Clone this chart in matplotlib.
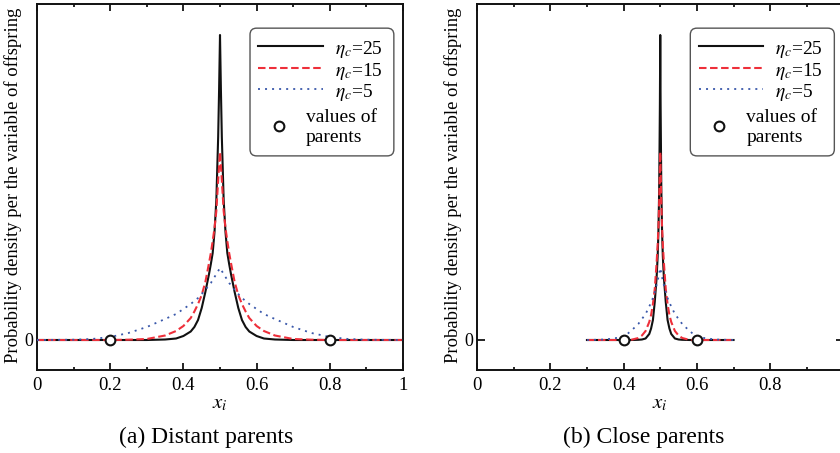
import matplotlib
matplotlib.use("Agg")
import matplotlib.pyplot as plt
from matplotlib.ticker import MultipleLocator, FixedLocator
from matplotlib.patches import FancyBboxPatch

plt.rcParams['font.family'] = ['Liberation Serif', 'DejaVu Serif']
plt.rcParams['mathtext.fontset'] = 'stix'

# ---------------- data ----------------
# (a) Distant parents
x_a = [0.00, 0.10, 0.15, 0.20, 0.25, 0.30, 0.35, 0.38, 0.40, 0.42, 0.43, 0.44, 0.45, 0.46, 0.47,
       0.475, 0.48, 0.485, 0.49, 0.495, 0.4975, 0.50, 0.5025, 0.505, 0.51, 0.515, 0.52, 0.525,
       0.53, 0.54, 0.55, 0.56, 0.57, 0.58, 0.60, 0.62, 0.65, 0.70, 0.75, 0.80, 0.85, 0.90, 1.00]
eta25_a = [0, 0, 0, 0, 0, 0, 0.05, 0.15, 0.4, 0.85, 1.3, 2.0, 3.2, 4.8, 6.6, 7.6, 8.7, 10.8, 14.0,
           20.3, 25.0, 30.5, 25.0, 20.3, 14.0, 10.8, 8.7, 7.6, 6.6, 4.8, 3.2, 2.0, 1.3, 0.85, 0.4,
           0.15, 0.05, 0, 0, 0, 0, 0, 0]
eta15_a = [0, 0, 0, 0, 0.03, 0.1, 0.45, 0.9, 1.4, 2.2, 2.85, 3.6, 4.5, 5.8, 7.7, 8.7, 9.9, 11.2,
           12.9, 16.0, 17.4, 18.8, 17.4, 16.0, 12.9, 11.2, 9.9, 8.7, 7.7, 5.8, 4.5, 3.6, 2.85, 2.2,
           1.4, 0.9, 0.45, 0.1, 0.03, 0, 0, 0, 0]
eta5_a = [0, 0.03, 0.1, 0.3, 0.7, 1.3, 2.1, 2.6, 3.1, 3.6, 3.9, 4.2, 4.6, 5.0, 5.5, 5.7, 6.0,
          6.3, 6.6, 6.9, 7.05, 7.2, 7.05, 6.9, 6.6, 6.3, 6.0, 5.7, 5.5, 5.0, 4.6, 4.2, 3.9, 3.6,
          3.1, 2.6, 2.1, 1.3, 0.7, 0.3, 0.1, 0.03, 0]
parents_a = [0.2, 0.8]

# (b) Close parents
x_b = [0.30, 0.35, 0.40, 0.42, 0.44, 0.45, 0.46, 0.47, 0.475, 0.48, 0.485, 0.49, 0.493, 0.495,
       0.497, 0.498, 0.499, 0.50, 0.501, 0.502, 0.503, 0.505, 0.507, 0.51, 0.515, 0.52, 0.525,
       0.53, 0.54, 0.55, 0.56, 0.58, 0.60, 0.65, 0.70]
eta25_b = [0, 0, 0, 0, 0.02, 0.05, 0.15, 0.6, 1.15, 2.0, 3.8, 6.2, 8.4, 10.8, 14.9, 19.0, 23.5,
           30.5, 23.5, 19.0, 14.9, 10.8, 8.4, 6.2, 3.8, 2.0, 1.15, 0.6, 0.15, 0.05, 0.02, 0, 0, 0, 0]
eta15_b = [0, 0, 0, 0.01, 0.2, 0.45, 0.9, 1.8, 2.5, 3.6, 5.1, 7.7, 9.6, 11.2, 13.6, 15.4, 17.1,
           18.8, 17.1, 15.4, 13.6, 11.2, 9.6, 7.7, 5.1, 3.6, 2.5, 1.8, 0.9, 0.45, 0.2, 0.01, 0, 0, 0]
eta5_b = [0, 0.05, 0.3, 0.9, 1.6, 2.1, 2.6, 3.35, 3.75, 4.2, 4.8, 5.5, 5.9, 6.3, 6.65, 6.85, 7.0,
          7.2, 7.0, 6.85, 6.65, 6.3, 5.9, 5.5, 4.8, 4.2, 3.75, 3.35, 2.6, 2.1, 1.6, 0.9, 0.3, 0.05, 0]
parents_b = [0.4, 0.6]

series_labels = [r'$\eta_c$=25', r'$\eta_c$=15', r'$\eta_c$=5']
parent_label = ['values of', 'parents']
captions = ['(a) Distant parents', '(b) Close parents']
ylabel = 'Probability density per the variable of offspring'
xticks = [0, 0.2, 0.4, 0.6, 0.8, 1.0]
xticklabels_a = ['0', '0.2', '0.4', '0.6', '0.8', '1']
xticklabels_b = ['0', '0.2', '0.4', '0.6', '0.8', '']

# ---------------- figure ----------------
W, H = 840, 453
fig = plt.figure(figsize=(W / 100, H / 100), dpi=100)

def px_axes(x0, x1, ytop, ybot):
    return fig.add_axes([x0 / W, (H - ybot) / H, (x1 - x0) / W, (ybot - ytop) / H])

ax_a = px_axes(37, 403, 4, 370)
ax_b = px_axes(477, 843.5, 4, 370)

black = '#111111'
red = '#ee2f3a'
blue = '#3a58aa'
styles = [
    dict(color=black, lw=1.5, ls='-'),
    dict(color=red, lw=1.5, ls=(0, (3.6, 1.7))),
    dict(color=blue, lw=1.3, ls=(0, (1.1, 2.8))),
]
marker_style = dict(marker='o', ms=7, mfc='white', mec=black, mew=1.5, ls='none')

panels = [
    (ax_a, x_a, [eta25_a, eta15_a, eta5_a], parents_a, xticklabels_a),
    (ax_b, x_b, [eta25_b, eta15_b, eta5_b], parents_b, xticklabels_b),
]

def draw_legend(ax):
    T = ax.transAxes
    x0, x1, y0, y1 = 0.582, 0.975, 0.585, 0.934
    r = 0.018
    box = FancyBboxPatch((x0 + r, y0 + r), x1 - x0 - 2 * r, y1 - y0 - 2 * r,
                         boxstyle=f"round,pad={r}", transform=T, facecolor='white',
                         edgecolor='#555555', lw=1.0, zorder=10)
    ax.add_patch(box)
    line_y = [0.885, 0.826, 0.767]
    text_y = [0.863, 0.804, 0.746]
    for st, lab, ly, ty in zip(styles, series_labels, line_y, text_y):
        ax.plot([0.605, 0.781], [ly, ly], transform=T, zorder=11, clip_on=False, **st)
        ax.text(0.814, ty, lab, transform=T, fontsize=14, ha='left', va='baseline', zorder=11)
    ax.plot([0.660], [0.668], transform=T, zorder=11, clip_on=False, **marker_style)
    ax.text(0.735, 0.678, parent_label[0], transform=T, fontsize=14, ha='left',
            va='baseline', zorder=11)
    ax.text(0.735, 0.624, parent_label[1], transform=T, fontsize=14, ha='left',
            va='baseline', zorder=11)

for ax, xs, ys, par, xtl in panels:
    for yv, st, lab in zip(ys, styles, series_labels):
        ax.plot(xs, yv, label=lab, zorder=3, **st)
    ax.plot(par, [0] * len(par), zorder=6, label=' '.join(parent_label), **marker_style)

    ax.set_xlim(0, 1)
    ax.set_ylim(-3.0, 33.6)
    ax.xaxis.set_major_locator(FixedLocator(xticks))
    ax.set_xticklabels(xtl)
    ax.xaxis.set_minor_locator(MultipleLocator(0.1))
    ax.set_yticks([0])
    ax.set_yticklabels(['0'])
    ax.tick_params(axis='x', which='major', direction='in', length=5, width=1.2,
                   top=True, labelsize=13.5, pad=5)
    ax.tick_params(axis='x', which='minor', direction='in', length=2.5, width=1.2, top=True)
    ax.tick_params(axis='y', which='major', direction='in', length=6, width=1.2,
                   right=True, labelsize=13, pad=3)
    for s in ax.spines.values():
        s.set_linewidth(1.4)
        s.set_color(black)

    ax.set_xlabel(r'$x_i$', fontsize=15, labelpad=0)
    ax.set_ylabel(ylabel, fontsize=13.4)
    ax.yaxis.set_label_coords(-0.042, 0.505)
    draw_legend(ax)

fig.text(206 / W, 1 - 437 / H, captions[0], ha='center', va='center', fontsize=17)
fig.text(644 / W, 1 - 437 / H, captions[1], ha='center', va='center', fontsize=17)

fig.savefig('out.png', dpi=100)
